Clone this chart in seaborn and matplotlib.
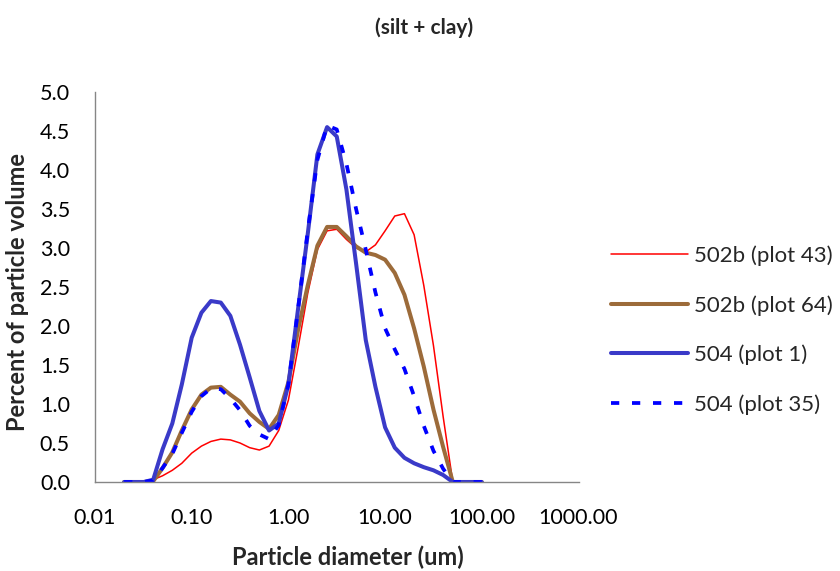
import matplotlib
matplotlib.use("Agg")
import matplotlib.pyplot as plt
from matplotlib.ticker import NullLocator, FixedLocator, FixedFormatter
import numpy as np
import pandas as pd
import seaborn as sns

# ---------------- data ----------------
diameter_um = [0.020, 0.025, 0.032, 0.040, 0.050, 0.063, 0.079, 0.100, 0.126, 0.158,
               0.200, 0.251, 0.316, 0.398, 0.501, 0.631, 0.794, 1.000, 1.259, 1.585,
               1.995, 2.512, 3.162, 3.981, 5.012, 6.310, 7.943, 10.00, 12.59, 15.85,
               19.95, 25.12, 31.62, 39.81, 50.12, 63.10, 79.43, 100.0]

plot43_502b = [0, 0, 0.01, 0.03, 0.08, 0.15, 0.24, 0.37, 0.46, 0.52,
               0.55, 0.54, 0.50, 0.44, 0.41, 0.46, 0.66, 1.05, 1.72, 2.42,
               2.98, 3.22, 3.24, 3.11, 3.00, 2.95, 3.04, 3.22, 3.41, 3.44,
               3.17, 2.52, 1.75, 0.84, 0, 0, 0, 0]

plot64_502b = [0, 0, 0, 0.01, 0.18, 0.38, 0.66, 0.93, 1.12, 1.21,
               1.22, 1.12, 1.03, 0.88, 0.77, 0.68, 0.86, 1.28, 1.95, 2.52,
               3.03, 3.27, 3.27, 3.15, 3.02, 2.94, 2.91, 2.85, 2.68, 2.40,
               1.97, 1.48, 0.93, 0.45, 0, 0, 0, 0]

plot1_504 = [0, 0, 0, 0.03, 0.42, 0.75, 1.25, 1.85, 2.17, 2.32,
             2.30, 2.13, 1.76, 1.34, 0.91, 0.66, 0.75, 1.25, 2.22, 3.18,
             4.20, 4.55, 4.43, 3.75, 2.80, 1.82, 1.22, 0.70, 0.44, 0.31,
             0.24, 0.19, 0.15, 0.09, 0, 0, 0, 0]

plot35_504 = [0, 0, 0, 0.02, 0.18, 0.36, 0.63, 0.90, 1.10, 1.20,
              1.19, 1.07, 0.92, 0.72, 0.61, 0.55, 0.73, 1.25, 2.22, 3.22,
              4.13, 4.57, 4.52, 4.08, 3.50, 2.98, 2.43, 1.97, 1.70, 1.45,
              1.10, 0.72, 0.40, 0.17, 0, 0, 0, 0]

series_names = ["502b (plot 43)", "502b (plot 64)", "504 (plot 1)", "504 (plot 35)"]
series_values = [plot43_502b, plot64_502b, plot1_504, plot35_504]

x_ticks = [0.01, 0.1, 1, 10, 100, 1000]
x_tick_labels = ["0.01", "0.10", "1.00", "10.00", "100.00", "1000.00"]
y_ticks = [0.0, 0.5, 1.0, 1.5, 2.0, 2.5, 3.0, 3.5, 4.0, 4.5, 5.0]
y_tick_labels = ["0.0", "0.5", "1.0", "1.5", "2.0", "2.5", "3.0", "3.5", "4.0", "4.5", "5.0"]

title_text = "(silt + clay)"
x_label = "Particle diameter (um)"
y_label = "Percent of particle volume"

# ---------------- style ----------------
sns.set_style("white")
plt.rcParams["font.family"] = ["Lato", "DejaVu Sans"]

colors = ["#FF0000", "#9C6B3A", "#3A3AC8", "#0000FF"]
widths = [1.1, 2.9, 2.9, 2.7]
styles = ["-", "-", "-", (0, (2.2, 3.4))]

W, H = 840, 571
fig = plt.figure(figsize=(W / 100, H / 100), dpi=100)
ax = fig.add_axes([95 / W, (H - 482) / H, 483.5 / W, 390 / H])

for name, vals, c, lw, ls in zip(series_names, series_values, colors, widths, styles):
    df = pd.DataFrame({"d": diameter_um, "v": vals})
    sns.lineplot(data=df, x="d", y="v", ax=ax, color=c, linewidth=lw,
                 linestyle=ls, label=name, estimator=None, sort=False)

if ax.get_legend() is not None:
    ax.get_legend().remove()

ax.set_xscale("log")
ax.set_xlim(0.01, 1000)
ax.set_ylim(0, 5.0)
ax.xaxis.set_major_locator(FixedLocator(x_ticks))
ax.xaxis.set_major_formatter(FixedFormatter(x_tick_labels))
ax.xaxis.set_minor_locator(NullLocator())
ax.set_yticks(y_ticks)
ax.set_yticklabels(y_tick_labels)
ax.set_xlabel("")
ax.set_ylabel("")

for s in ["top", "right"]:
    ax.spines[s].set_visible(False)
for s in ["left", "bottom"]:
    ax.spines[s].set_color("#868686")
    ax.spines[s].set_linewidth(1.0)

ax.tick_params(axis="both", direction="out", length=6, width=1, color="#868686",
               labelsize=15.5, labelcolor="#000000")
ax.tick_params(axis="x", pad=13)
ax.tick_params(axis="y", pad=12)

handles, labels = ax.get_legend_handles_labels()
fig.legend(handles, labels, loc="center left", bbox_to_anchor=(611 / W, 1 - 330 / H),
           frameon=False, fontsize=16, handlelength=3.45, handletextpad=0.28,
           labelspacing=1.3, borderpad=0, borderaxespad=0)

fig.text(424 / W, 1 - 28 / H, title_text, ha="center", va="center",
         fontsize=15, fontweight="bold")
fig.text(348 / W, 2 / H, x_label, ha="center", va="bottom",
         fontsize=17, fontweight="bold")
fig.text(18 / W, 1 - 292 / H, y_label, ha="center", va="center", rotation=90,
         fontsize=17, fontweight="bold")

fig.savefig("out.png", dpi=100)
